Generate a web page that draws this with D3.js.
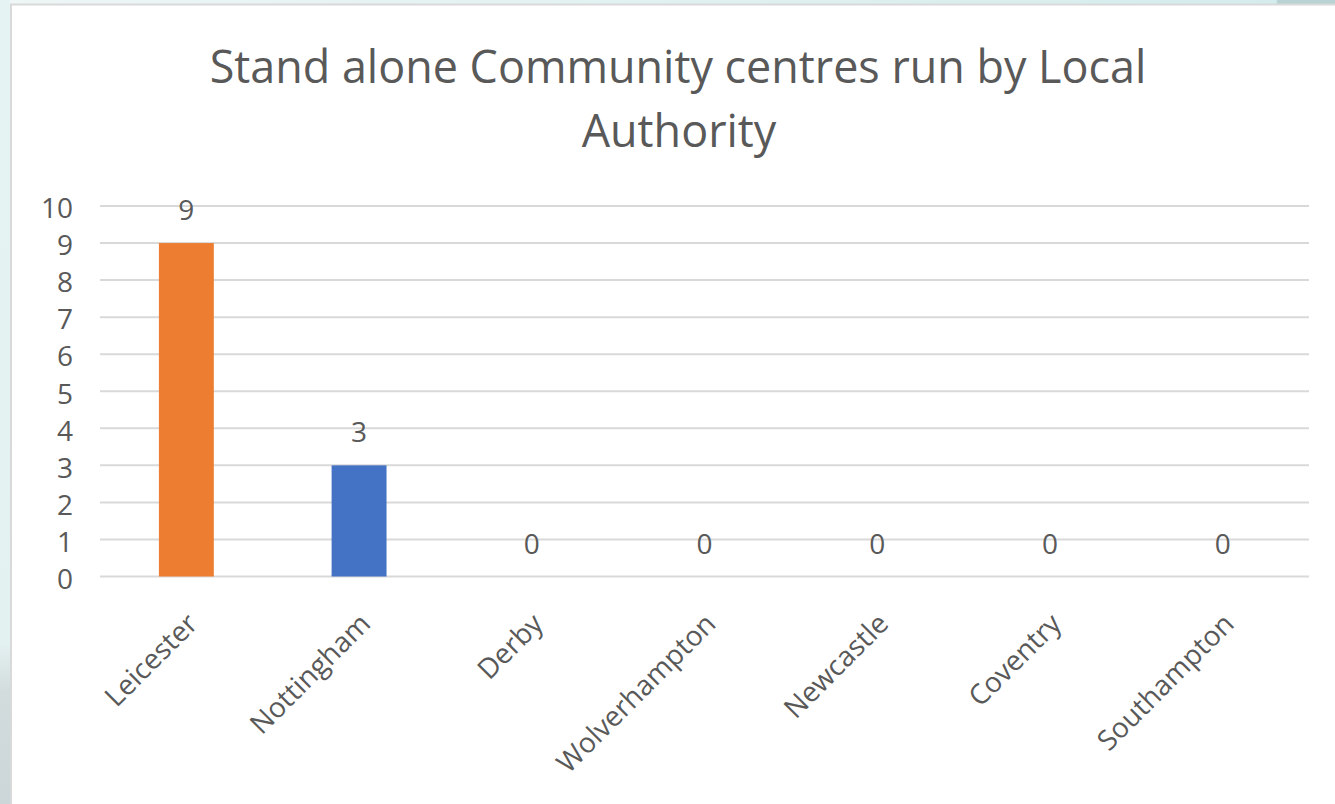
<!DOCTYPE html>
<html>
<head>
<meta charset="utf-8">
<script src="https://cdn.jsdelivr.net/npm/d3@7"></script>
<style>
  html, body { margin: 0; padding: 0; background: #fff; }
  svg { display: block; }
  text { font-family: "Open Sans", "Noto Sans", sans-serif; fill: #595959; }
</style>
</head>
<body>
<svg id="chart" width="1335" height="804"></svg>
<script>
// ---- data ----
const categories = ["Leicester", "Nottingham", "Derby", "Wolverhampton", "Newcastle", "Coventry", "Southampton"];
const values = [9, 3, 0, 0, 0, 0, 0];
const barColors = ["#ED7D31", "#4472C4", "#4472C4", "#4472C4", "#4472C4", "#4472C4", "#4472C4"];
const yTicks = [0, 1, 2, 3, 4, 5, 6, 7, 8, 9, 10];
const titleLines = ["Stand alone Community centres run by Local", "Authority"];

const W = 1335, H = 804;
const svg = d3.select("#chart");

// ---- background (slide behind the chart) ----
const defs = svg.append("defs");
const gl = defs.append("linearGradient").attr("id", "leftBg").attr("x1", 0).attr("y1", 0).attr("x2", 0).attr("y2", 1);
gl.append("stop").attr("offset", "0%").attr("stop-color", "#e6f3f3");
gl.append("stop").attr("offset", "80%").attr("stop-color", "#e4f1f1");
gl.append("stop").attr("offset", "86%").attr("stop-color", "#d2dcdd");
gl.append("stop").attr("offset", "100%").attr("stop-color", "#ccd6d8");
const gt = defs.append("linearGradient").attr("id", "topBg").attr("x1", 0).attr("y1", 0).attr("x2", 1).attr("y2", 0);
gt.append("stop").attr("offset", "0%").attr("stop-color", "#eef6f6");
gt.append("stop").attr("offset", "95.6%").attr("stop-color", "#d5ecec");
gt.append("stop").attr("offset", "95.7%").attr("stop-color", "#b9d2d3");
gt.append("stop").attr("offset", "100%").attr("stop-color", "#b9d2d3");

svg.append("rect").attr("x", 0).attr("y", 0).attr("width", W).attr("height", 4).attr("fill", "url(#topBg)");
svg.append("rect").attr("x", 0).attr("y", 0).attr("width", 10).attr("height", H).attr("fill", "url(#leftBg)");
// chart frame
svg.append("rect").attr("x", 11).attr("y", 4.5).attr("width", W).attr("height", H)
  .attr("fill", "#ffffff").attr("stroke", "#d9d9d9").attr("stroke-width", 2);

// ---- plot area ----
const plot = { left: 100, right: 1309, top: 206, bottom: 576.5 };

const x = d3.scaleBand()
  .domain(categories)
  .range([plot.left, plot.right])
  .paddingInner(0.682)
  .paddingOuter(0.341);

const y = d3.scaleLinear()
  .domain([0, 10])
  .range([plot.bottom, plot.top]);

// gridlines
svg.append("g")
  .selectAll("line")
  .data(yTicks)
  .join("line")
  .attr("x1", plot.left).attr("x2", plot.right)
  .attr("y1", d => y(d)).attr("y2", d => y(d))
  .attr("stroke", "#d9d9d9").attr("stroke-width", 2);

// y axis labels
const yAxis = d3.axisLeft(y).tickValues(yTicks).tickSize(0).tickPadding(0);
const yg = svg.append("g").attr("transform", `translate(${plot.left - 27},0)`).call(yAxis);
yg.select(".domain").remove();
yg.selectAll("text")
  .attr("font-size", 28)
  .attr("fill", "#595959")
  .attr("font-family", "'Open Sans', sans-serif")
  .attr("dy", "0.42em");

// bars
svg.append("g")
  .selectAll("rect")
  .data(categories)
  .join("rect")
  .attr("x", d => x(d))
  .attr("width", x.bandwidth())
  .attr("y", (d, i) => y(values[i]))
  .attr("height", (d, i) => y(0) - y(values[i]))
  .attr("fill", (d, i) => barColors[i]);

// data labels
svg.append("g")
  .selectAll("text")
  .data(categories)
  .join("text")
  .attr("x", d => x(d) + x.bandwidth() / 2)
  .attr("y", (d, i) => y(values[i]) - 23)
  .attr("text-anchor", "middle")
  .attr("font-size", 28)
  .text((d, i) => values[i]);

// x axis labels (rotated)
const xAxis = d3.axisBottom(x).tickSize(0).tickPadding(0);
const xg = svg.append("g").attr("transform", `translate(0,${plot.bottom})`).call(xAxis);
xg.select(".domain").remove();
xg.selectAll("text")
  .attr("font-size", 28)
  .attr("fill", "#595959")
  .attr("font-family", "'Open Sans', sans-serif")
  .attr("text-anchor", "end")
  .attr("dy", null)
  .attr("y", 0)
  .attr("transform", "translate(13,49) rotate(-45)");

// title
const tg = svg.append("g");
const t1 = tg.append("text")
  .attr("x", 678).attr("y", 83)
  .attr("text-anchor", "middle")
  .attr("font-size", 40)
  .text(titleLines[0]);
const len = t1.node().getComputedTextLength();
const fs = 40 * 937 / len;
t1.attr("font-size", fs);
tg.append("text")
  .attr("x", 679).attr("y", 147)
  .attr("text-anchor", "middle")
  .attr("font-size", fs)
  .text(titleLines[1]);
</script>
</body>
</html>
